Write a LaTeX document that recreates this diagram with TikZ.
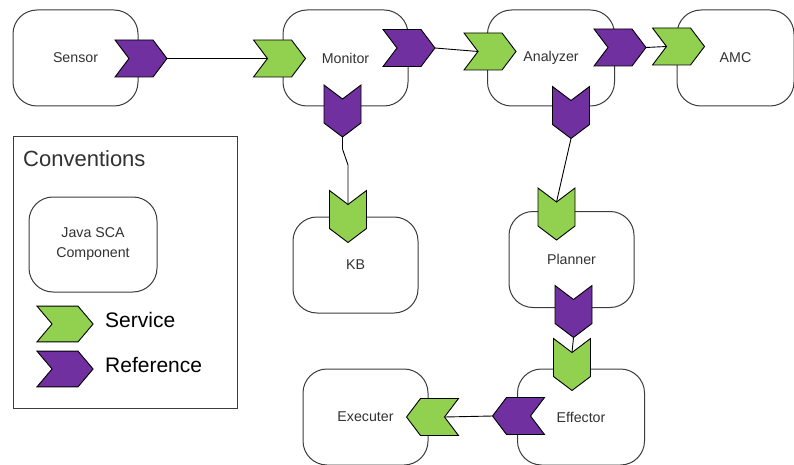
\documentclass[tikz,border=0pt]{standalone}
\usepackage{fontspec}
\setmainfont{Liberation Sans}
\begin{document}
\definecolor{svcgreen}{RGB}{146,208,80}
\definecolor{refpurple}{RGB}{112,48,160}
\definecolor{boxline}{RGB}{60,60,60}
\definecolor{txtgray}{RGB}{50,50,50}
\begin{tikzpicture}[x=1pt,y=-1pt,
  comp/.style={draw=boxline, line width=1pt, rounded corners=24pt,
    minimum width=125pt, minimum height=96pt, inner sep=0pt,
    text=txtgray, font=\fontsize{14.2}{20}\selectfont, align=center},
  wire/.style={draw=black, line width=0.9pt},
  pics/chev/.style={code={
    \path[draw=black, line width=0.9pt, line join=miter, fill=#1]
      (-26,-18.5) -- (12,-18.5) -- (26,0) -- (12,18.5) -- (-26,18.5) -- (-12,0) -- cycle;
    \coordinate (-tip) at (26,0);
    \coordinate (-notch) at (-12,0);
  }},
  legendtext/.style={anchor=west, inner sep=0pt, text=black, font=\fontsize{21}{24}\selectfont}
]
\useasboundingbox (0,0) rectangle (794,465);
\fill[white] (0,0) rectangle (794,465);

% components
\node[comp] (sensor)   at (75.5,58)  {Sensor};
\node[comp] (monitor)  at (345.5,58) {Monitor};
\node[comp, minimum width=127pt] (analyzer) at (551,58) {Analyzer};
\node[comp, minimum width=117pt] (amc) at (735.5,58) {AMC};
\node[comp] (kb)       at (355.5,265) {KB};
\node[comp] (planner)  at (571.5,259.5) {Planner};
\node[comp, minimum width=127pt] (effector) at (581,417) {Effector};
\node[comp] (executer) at (365.5,417) {Executer};

% conventions panel
\node[draw=boxline, line width=1pt, minimum width=224pt, minimum height=271pt, inner sep=0pt] (conv) at (125,272.5) {};
\node[anchor=west, inner sep=0pt, text=txtgray, font=\fontsize{22}{26}\selectfont] (convtitle) at (23,159) {Conventions};
\node[comp, minimum width=128pt, minimum height=95pt] (javasca) at (93,244.5) {Java SCA\\Component};

% services and references
\pic (sensor-ref)   at (141,58.5)   {chev=refpurple};
\pic (monitor-svc)  at (279.5,58.5) {chev=svcgreen};
\pic (monitor-ref)  at (409,48)     {chev=refpurple};
\pic (analyzer-svc) at (490,51.5)   {chev=svcgreen};
\pic (analyzer-ref) at (620,47.5)   {chev=refpurple};
\pic (amc-svc)      at (678.5,46.5) {chev=svcgreen};
\pic[rotate=-90] (monitor-kbref)  at (342.5,111)   {chev=refpurple};
\pic[rotate=-90] (kb-svc)         at (348,216.5)   {chev=svcgreen};
\pic[rotate=-90] (analyzer-plref) at (571,112.5)   {chev=refpurple};
\pic[rotate=-90] (planner-svc)    at (556.5,214)   {chev=svcgreen};
\pic[rotate=-90] (planner-ref)    at (573.5,311.5) {chev=refpurple};
\pic[rotate=-90] (effector-svc)   at (572,364.5)   {chev=svcgreen};
\pic[rotate=180] (effector-ref)   at (518.5,416)   {chev=refpurple};
\pic[rotate=180] (executer-svc)   at (432.5,417)   {chev=svcgreen};

% wires
\draw[wire] (sensor-ref-tip) -- (monitor-svc-notch);
\draw[wire] (monitor-ref-tip) -- (analyzer-svc-notch);
\draw[wire] (analyzer-ref-tip) -- (amc-svc-notch);
\draw[wire] (monitor-kbref-tip) -- ++(0,12) -- (348,165) -- (kb-svc-notch);
\draw[wire] (analyzer-plref-tip) -- (planner-svc-notch);
\draw[wire] (planner-ref-tip) -- (effector-svc-notch);
\draw[wire] (effector-ref-tip) -- (executer-svc-notch);

% legend
\pic[xscale=1.08, yscale=0.97] (legend-svc) at (65,324) {chev=svcgreen};
\pic[xscale=1.08, yscale=0.97] (legend-ref) at (65,369) {chev=refpurple};
\node[legendtext] (svclabel) at (105,320) {Service};
\node[legendtext] (reflabel) at (105,365) {Reference};
\end{tikzpicture}
\end{document}
